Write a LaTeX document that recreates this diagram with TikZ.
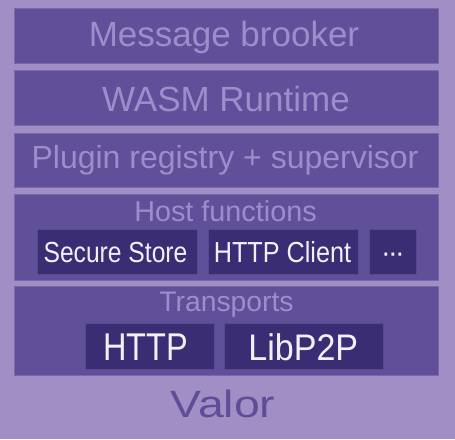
\documentclass[tikz,border=0pt]{standalone}
\usepackage{fontspec}
\setmainfont{Liberation Sans}
\usepackage{graphicx}
\definecolor{bg}{HTML}{A08EC5}
\definecolor{layer}{HTML}{60509A}
\definecolor{innerc}{HTML}{3B2D73}
\definecolor{ltext}{HTML}{9D8DCA}
\definecolor{wtext}{HTML}{F2F0F8}
\definecolor{vtext}{HTML}{5E4E98}
\newcommand{\fsz}[1]{\fontsize{#1}{#1}\selectfont}
\newcommand{\sx}[2]{\scalebox{#1}[1]{#2}}
\begin{document}
\begin{tikzpicture}[x=1pt,y=-1pt,
  layerbox/.style={fill=layer, draw=layer!85!white, line width=0.6pt, inner sep=0pt, minimum width=424pt},
  innerbox/.style={fill=innerc, draw=innerc!85!white, line width=0.6pt, inner sep=0pt},
  ltxt/.style={anchor=base, inner sep=0pt, text=ltext},
  wtxt/.style={anchor=base, inner sep=0pt, text=wtext}]
\fill[bg] (0,0) rectangle (455,439);
\useasboundingbox (0,0) rectangle (455,439);
% layers
\node[layerbox, minimum height=55pt] (mb) at (226,35.5) {};
\node[layerbox, minimum height=55pt] (wasm) at (226,97.5) {};
\node[layerbox, minimum height=54pt] (plug) at (226,160) {};
\node[layerbox, minimum height=86pt] (host) at (226,237) {};
\node[layerbox, minimum height=89pt] (trans) at (226,330.5) {};
% inner boxes
\node[innerbox, minimum width=160pt, minimum height=45pt] (ss) at (117,251.5) {};
\node[innerbox, minimum width=150pt, minimum height=45pt] (hc) at (283,251.5) {};
\node[innerbox, minimum width=47pt, minimum height=45pt] (more) at (392.5,251.5) {};
\node[innerbox, minimum width=129pt, minimum height=46pt] (http) at (149.5,346) {};
\node[innerbox, minimum width=159pt, minimum height=46pt] (p2p) at (303.5,346) {};
% texts
\node[ltxt, font=\fsz{35}] (tmb) at (224,46) {Message brooker};
\node[ltxt, font=\fsz{35}] (twasm) at (226,111) {WASM Runtime};
\node[ltxt, font=\fsz{32}] (tplug) at (225,168) {Plugin registry + supervisor};
\node[ltxt, font=\fsz{28.8}] (thost) at (225.5,221.7) {Host functions};
\node[wtxt, font=\fsz{29}] (tss) at (115.5,262) {\sx{0.85}{Secure Store}};
\node[wtxt, font=\fsz{29}] (thc) at (282.5,262) {\sx{0.87}{HTTP Client}};
\node[wtxt, font=\fsz{29}] (tmore) at (393,262) {\symbol{"B7}\kern-2.6pt\symbol{"B7}\kern-2.6pt\symbol{"B7}};
\node[ltxt, font=\fsz{28.3}] (ttrans) at (226.5,311.7) {Transports};
\node[wtxt, font=\fsz{38.7}] (thttp) at (145.8,360) {\sx{0.84}{HTTP}};
\node[wtxt, font=\fsz{37}] (tp2p) at (303.3,360) {\sx{0.92}{LibP2P}};
\node[anchor=base, inner sep=0pt, text=vtext, font=\fsz{38}] (valor) at (223,417) {\sx{1.22}{Valor}};
\end{tikzpicture}
\end{document}
